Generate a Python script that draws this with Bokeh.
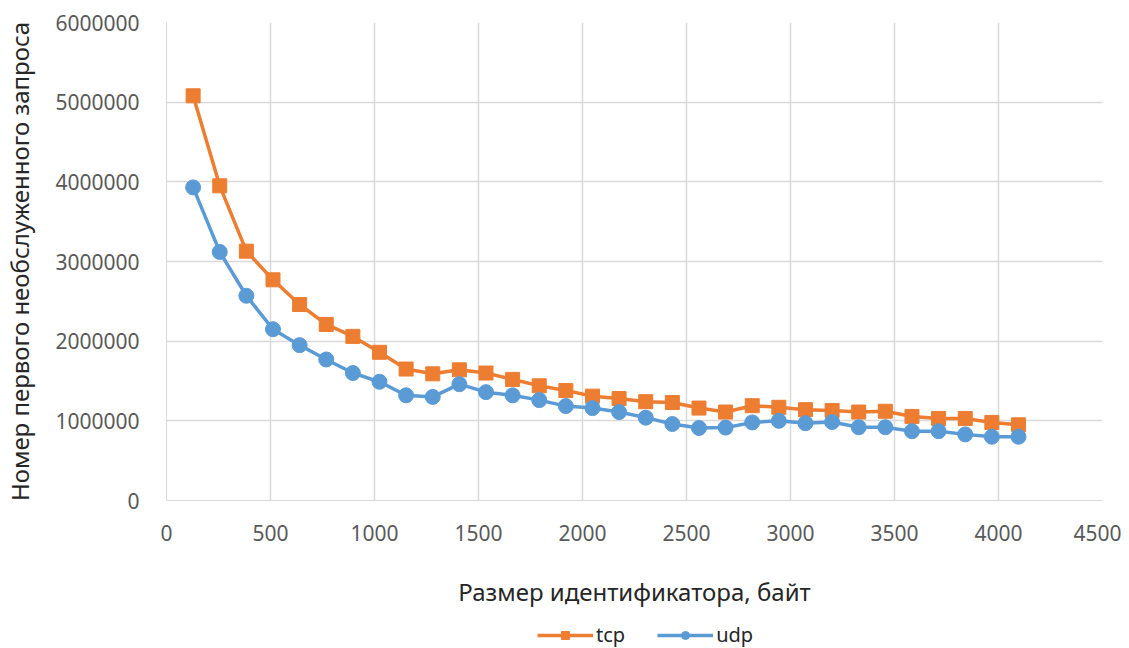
from bokeh.plotting import figure
from bokeh.layouts import column
from bokeh.models import Legend, LegendItem, FixedTicker, BasicTickFormatter, Range1d
from bokeh.embed import file_html
from bokeh.resources import INLINE

# Identifier size, bytes
sizes = [128, 256, 384, 512, 640, 768, 896, 1024, 1152, 1280, 1408, 1536, 1664, 1792,
         1920, 2048, 2176, 2304, 2432, 2560, 2688, 2816, 2944, 3072, 3200, 3328, 3456,
         3584, 3712, 3840, 3968, 4096]

tcp = [5080000, 3950000, 3130000, 2770000, 2460000, 2210000, 2060000, 1860000,
       1650000, 1590000, 1640000, 1600000, 1520000, 1440000, 1380000, 1310000,
       1280000, 1240000, 1230000, 1160000, 1110000, 1190000, 1170000, 1140000,
       1130000, 1110000, 1120000, 1055000, 1030000, 1030000, 980000, 950000]

udp = [3930000, 3120000, 2570000, 2150000, 1950000, 1770000, 1600000, 1490000,
       1320000, 1300000, 1460000, 1360000, 1320000, 1260000, 1185000, 1160000,
       1110000, 1040000, 960000, 910000, 915000, 980000, 1000000, 970000,
       985000, 920000, 920000, 870000, 870000, 830000, 800000, 800000]

x_ticks = [0, 500, 1000, 1500, 2000, 2500, 3000, 3500, 4000, 4500]
y_ticks = [0, 1000000, 2000000, 3000000, 4000000, 5000000, 6000000]

x_title = "Размер идентификатора, байт"
y_title = "Номер первого необслуженного запроса"
series_names = ["tcp", "udp"]

FONT = "Noto Sans"
ORANGE = "#ED7D31"
BLUE = "#5B9BD5"
GRID = "#d9d9d9"

p = figure(output_backend="svg", toolbar_location=None,
           x_range=Range1d(0, 4500), y_range=Range1d(0, 6000000))
p.frame_width = 936
p.frame_height = 478
p.min_border_left = 166
p.min_border_right = 19
p.min_border_top = 22
p.min_border_bottom = 0
p.outline_line_color = None

for ax in (p.xaxis[0], p.yaxis[0]):
    ax.axis_line_color = GRID
    ax.major_tick_line_color = None
    ax.minor_tick_line_color = None
    ax.major_tick_out = 0
    ax.major_tick_in = 0
    ax.major_label_text_font = FONT
    ax.major_label_text_font_size = "21px"
    ax.major_label_text_color = "#595959"
    ax.axis_label_text_font = FONT
    ax.axis_label_text_font_size = "24px"
    ax.axis_label_text_font_style = "normal"
    ax.axis_label_text_color = "#262626"

p.xaxis.ticker = FixedTicker(ticks=x_ticks)
p.yaxis.ticker = FixedTicker(ticks=y_ticks)
p.yaxis.formatter = BasicTickFormatter(use_scientific=False)
p.xaxis.axis_label = x_title
p.yaxis.axis_label = y_title
p.xaxis.major_label_standoff = 24
p.xaxis.axis_label_standoff = 31
p.yaxis.major_label_standoff = 27
p.yaxis.axis_label_standoff = 16

p.xgrid.grid_line_color = GRID
p.ygrid.grid_line_color = GRID
p.xgrid.grid_line_width = 1.5
p.ygrid.grid_line_width = 1.5

p.line(sizes, tcp, line_color=ORANGE, line_width=3.5)
p.scatter(sizes, tcp, marker="square", size=14, fill_color=ORANGE, line_color=ORANGE)
p.line(sizes, udp, line_color=BLUE, line_width=3.5)
p.scatter(sizes, udp, marker="circle", size=15, fill_color=BLUE, line_color=BLUE)

# Legend strip underneath the chart (its series lie outside its own ranges,
# so only the legend entries are visible)
leg = figure(width=1121, height=40, output_backend="svg", toolbar_location=None,
             x_range=Range1d(-2, -1), y_range=Range1d(-2, -1))
leg.min_border = 0
leg.min_border_left = 166
leg.min_border_right = 19
leg.min_border_top = 0
leg.min_border_bottom = 0
leg.axis.visible = False
leg.grid.visible = False
leg.outline_line_color = None

lt = leg.line(sizes, tcp, line_color=ORANGE, line_width=3.5)
st = leg.scatter(sizes, tcp, marker="square", size=14, fill_color=ORANGE, line_color=ORANGE)
lu = leg.line(sizes, udp, line_color=BLUE, line_width=3.5)
su = leg.scatter(sizes, udp, marker="circle", size=15, fill_color=BLUE, line_color=BLUE)

legend = Legend(items=[LegendItem(label=series_names[0], renderers=[lt, st]),
                       LegendItem(label=series_names[1], renderers=[lu, su])],
                orientation="horizontal", location=(371, 2),
                border_line_alpha=0, background_fill_alpha=0,
                label_text_font=FONT, label_text_font_size="20px",
                label_text_color="#262626", glyph_width=56, glyph_height=20,
                label_standoff=3, spacing=32, padding=0, margin=0)
leg.add_layout(legend, "center")

page = column(p, leg, spacing=0)
open("out.html", "w").write(file_html(page, INLINE))
